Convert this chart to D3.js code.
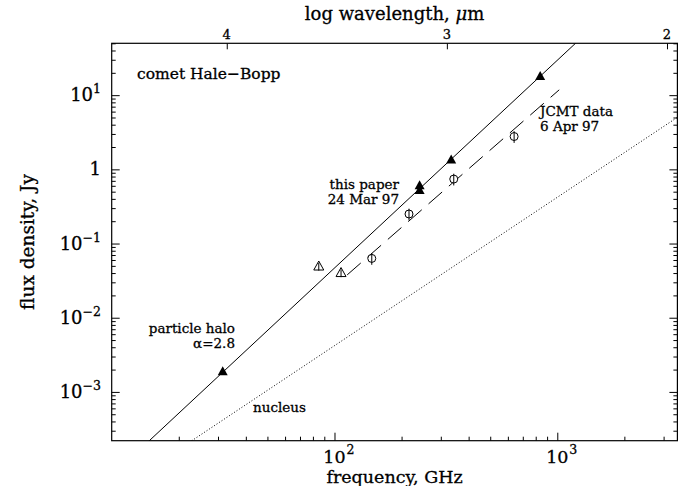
<!DOCTYPE html>
<html>
<head>
<meta charset="utf-8">
<script src="https://cdn.jsdelivr.net/npm/d3@7"></script>
<style>
  body { margin: 0; background: #fff; }
  svg text { font-family: "DejaVu Serif", "Liberation Serif", serif; fill: #000; stroke: #000; stroke-width: 0.3px; }
</style>
</head>
<body>
<svg id="chart" width="685" height="486"></svg>
<script>
// Comet Hale-Bopp continuum: flux density against frequency

// filled triangles: this paper, 24 Mar 97
const paperFreq = [31.5, 241, 241, 334, 838];        // GHz
const paperFlux = [0.00187, 0.60, 0.52, 1.34, 17.8];  // Jy

// open triangles: other interferometer fluxes
const otherFreq = [85, 107];
const otherFlux = [0.049, 0.040];
const otherErr = [0.12, 0.12];   // fractional 1-sigma

// open circles: JCMT data, 6 Apr 97
const jcmtFreq = [147, 216, 343, 640];
const jcmtFlux = [0.063, 0.25, 0.74, 2.77];
const jcmtErr = [0.18, 0.18, 0.18, 0.18];

// dashed power law through the JCMT points
const jcmtFitFreq = [114, 1020];
const jcmtFitFlux = [0.0378, 11.8];

// power-law models S = norm * nu^index
const haloIndex = 2.8;
const haloNorm = 1.175e-7;
const nucleusIndex = 2.0;
const nucleusNorm = 4.2e-7;

// axis ticks
const freqMajor = [100, 1000];
const freqMajorExp = ["2", "3"];
const fluxMajor = [10, 1, 0.1, 0.01, 0.001];
const fluxMantissa = ["10", "1", "10", "10", "10"];
const fluxExp = ["1", "", "\u22121", "\u22122", "\u22123"];
const waveMajor = [1e4, 1e3, 1e2];
const waveLabels = ["4", "3", "2"];

const svg = d3.select("#chart");
const L = 111.7, R = 677.4, T = 43.3, B = 440.7;

const x = d3.scaleLog().domain([10, 3460]).range([L, R]);
const y = d3.scaleLog().domain([2.2e-4, 50]).range([B, T]);
// log wavelength (micron) along the top edge
const xw = d3.scaleLog().domain([Math.pow(10, 4.5227), Math.pow(10, 1.9527)]).range([L, R]);

svg.append("defs").append("clipPath").attr("id", "plotArea")
  .append("rect").attr("x", L).attr("y", T).attr("width", R - L).attr("height", B - T);

// minor tick values
function minors(lo, hi) {
  const out = [];
  for (let e = Math.floor(Math.log10(lo)); e <= Math.ceil(Math.log10(hi)); e++) {
    for (let m = 2; m <= 9; m++) {
      const v = m * Math.pow(10, e);
      if (v >= lo && v <= hi) out.push(v);
    }
  }
  return out;
}
const fMinor = minors(10, 3460);
const sMinor = minors(2.2e-4, 50);

function styleAxis(g) {
  g.select(".domain").remove();
  g.selectAll("line").attr("stroke", "#000").attr("stroke-width", 1);
  g.selectAll("text").remove();
}

// bottom axis
svg.append("g").attr("transform", `translate(0,${B})`)
  .call(d3.axisBottom(x).tickValues(freqMajor).tickSize(-8)).call(styleAxis);
svg.append("g").attr("transform", `translate(0,${B})`)
  .call(d3.axisBottom(x).tickValues(fMinor).tickSize(-4)).call(styleAxis);
// left axis
svg.append("g").attr("transform", `translate(${L},0)`)
  .call(d3.axisLeft(y).tickValues(fluxMajor).tickSize(-8)).call(styleAxis);
svg.append("g").attr("transform", `translate(${L},0)`)
  .call(d3.axisLeft(y).tickValues(sMinor).tickSize(-4)).call(styleAxis);
// right axis
svg.append("g").attr("transform", `translate(${R},0)`)
  .call(d3.axisRight(y).tickValues(fluxMajor).tickSize(-8)).call(styleAxis);
svg.append("g").attr("transform", `translate(${R},0)`)
  .call(d3.axisRight(y).tickValues(sMinor).tickSize(-4)).call(styleAxis);
// top axis: wavelength
svg.append("g").attr("transform", `translate(0,${T})`)
  .call(d3.axisTop(xw).tickValues(waveMajor).tickSize(-6)).call(styleAxis);

// frame
svg.append("rect").attr("x", L).attr("y", T).attr("width", R - L).attr("height", B - T)
  .attr("fill", "none").attr("stroke", "#000").attr("stroke-width", 1.2);

// tick labels
fluxMajor.forEach((v, i) => {
  const t = svg.append("text").attr("x", 101).attr("y", y(v) + 6)
    .attr("text-anchor", "end").attr("font-size", 18);
  t.append("tspan").text(fluxMantissa[i]);
  if (fluxExp[i]) t.append("tspan").attr("dy", -8).attr("font-size", 12.5).text(fluxExp[i]);
});
freqMajor.forEach((v, i) => {
  svg.append("text").attr("x", x(v)).attr("y", 463).attr("text-anchor", "middle")
    .attr("font-size", 17.5).text("10");
  svg.append("text").attr("x", x(v) + 12).attr("y", 454).attr("text-anchor", "start")
    .attr("font-size", 12.5).text(freqMajorExp[i]);
});
waveMajor.forEach((v, i) => {
  svg.append("text").attr("x", xw(v)).attr("y", 39).attr("text-anchor", "middle")
    .attr("font-size", 13).text(waveLabels[i]);
});

// axis titles
svg.append("text").attr("x", (L + R) / 2).attr("y", 483).attr("text-anchor", "middle")
  .attr("font-size", 17.5).text("frequency, GHz");
const waveTitle = svg.append("text").attr("x", (L + R) / 2).attr("y", 20)
  .attr("text-anchor", "middle").attr("font-size", 18);
waveTitle.append("tspan").text("log wavelength, ");
waveTitle.append("tspan").attr("font-style", "italic").text("\u03bc");
waveTitle.append("tspan").text("m");
svg.append("text").attr("transform", `translate(34,${(T + B) / 2}) rotate(-90)`)
  .attr("text-anchor", "middle").attr("font-size", 18.5).text("flux density, Jy");

// model lines
const plot = svg.append("g").attr("clip-path", "url(#plotArea)");
const line = d3.line().x(d => x(d[0])).y(d => y(d[1]));
const edges = x.domain();

plot.append("path")
  .datum(edges.map(f => [f, haloNorm * Math.pow(f, haloIndex)]))
  .attr("d", line).attr("fill", "none").attr("stroke", "#000").attr("stroke-width", 1);

plot.append("path")
  .datum(edges.map(f => [f, nucleusNorm * Math.pow(f, nucleusIndex)]))
  .attr("d", line).attr("fill", "none").attr("stroke", "#000").attr("stroke-width", 1)
  .attr("stroke-dasharray", "1,2");

plot.append("path")
  .datum(jcmtFitFreq.map((f, i) => [f, jcmtFitFlux[i]]))
  .attr("d", line).attr("fill", "none").attr("stroke", "#000").attr("stroke-width", 1)
  .attr("stroke-dasharray", "18,9");

// markers
const tri = "M0,-5.5L5,3.5L-5,3.5Z";

plot.selectAll(".paper").data(paperFreq.map((f, i) => [f, paperFlux[i]])).join("path")
  .attr("class", "paper")
  .attr("transform", d => `translate(${x(d[0])},${y(d[1])})`)
  .attr("d", tri).attr("fill", "#000");

const other = plot.selectAll(".other").data(otherFreq.map((f, i) => [f, otherFlux[i], otherErr[i]]))
  .join("g").attr("class", "other");
other.append("path")
  .attr("transform", d => `translate(${x(d[0])},${y(d[1])})`)
  .attr("d", tri).attr("fill", "#fff").attr("stroke", "#000").attr("stroke-width", 1);
other.append("line")
  .attr("x1", d => x(d[0])).attr("x2", d => x(d[0]))
  .attr("y1", d => y(d[1] * (1 + d[2]))).attr("y2", d => y(d[1] * (1 - d[2])))
  .attr("stroke", "#000").attr("stroke-width", 1);

const jcmt = plot.selectAll(".jcmt").data(jcmtFreq.map((f, i) => [f, jcmtFlux[i], jcmtErr[i]]))
  .join("g").attr("class", "jcmt");
jcmt.append("circle")
  .attr("cx", d => x(d[0])).attr("cy", d => y(d[1])).attr("r", 4)
  .attr("fill", "#fff").attr("stroke", "#000").attr("stroke-width", 1);
jcmt.append("line")
  .attr("x1", d => x(d[0])).attr("x2", d => x(d[0]))
  .attr("y1", d => y(d[1] * (1 + d[2]))).attr("y2", d => y(d[1] * (1 - d[2])))
  .attr("stroke", "#000").attr("stroke-width", 1);

// annotations
svg.append("text").attr("x", 137).attr("y", 79).attr("font-size", 15.5).text("comet Hale\u2212Bopp");

function note(lines, xPos, yPos, anchor) {
  lines.forEach((s, i) => svg.append("text").attr("font-size", 13.5).attr("text-anchor", anchor)
    .attr("x", xPos).attr("y", yPos + i * 14.5).text(s));
}
note(["this paper", "24 Mar 97"], 399, 189, "end");
note(["JCMT data", "6 Apr 97"], 540, 116, "start");
note(["particle halo", "\u03b1=2.8"], 235, 333, "end");
note(["nucleus"], 253, 412, "start");
</script>
</body>
</html>
